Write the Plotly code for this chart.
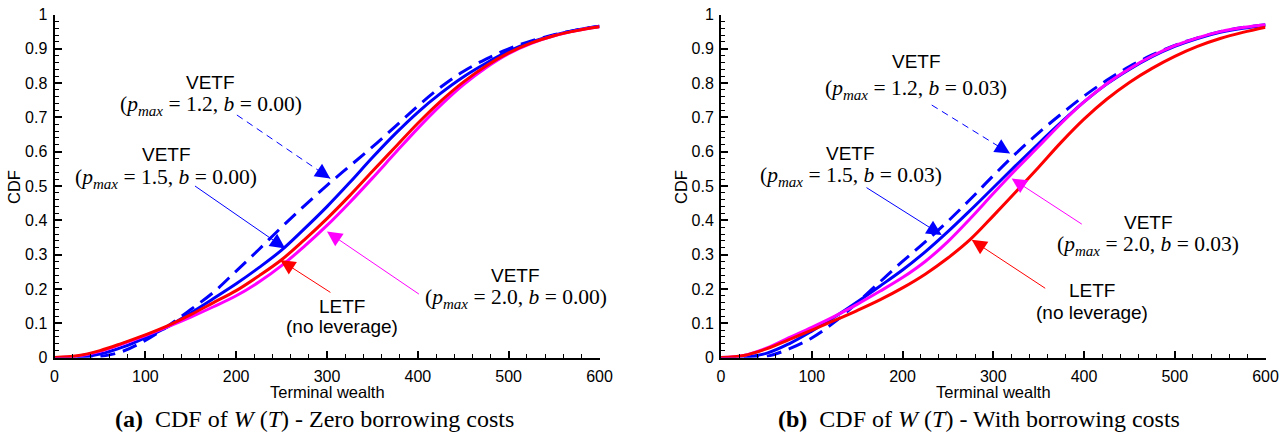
import numpy as np
import plotly.graph_objects as go

# Terminal wealth grid
wealth = [0, 25, 50, 75, 100, 125, 150, 175, 200, 225, 250, 275, 300,
          325, 350, 375, 400, 425, 450, 475, 500, 525, 550, 575, 600]

# (a) zero borrowing costs
cdf_a_vetf12 = [0, 0, 0.003, 0.018, 0.05, 0.092, 0.14, 0.19, 0.252, 0.315, 0.38, 0.442, 0.502,
                0.558, 0.614, 0.673, 0.733, 0.788, 0.834, 0.87, 0.9, 0.923, 0.941, 0.955, 0.966]
cdf_a_vetf15 = [0, 0.001, 0.01, 0.03, 0.058, 0.09, 0.13, 0.172, 0.215, 0.262, 0.313, 0.375, 0.44,
                0.51, 0.583, 0.652, 0.715, 0.77, 0.818, 0.858, 0.893, 0.92, 0.94, 0.955, 0.966]
cdf_a_vetf20 = [0, 0.004, 0.018, 0.04, 0.064, 0.09, 0.118, 0.148, 0.18, 0.22, 0.268, 0.324, 0.385,
                0.452, 0.523, 0.596, 0.668, 0.735, 0.795, 0.845, 0.886, 0.916, 0.938, 0.953, 0.964]
cdf_a_letf = [0, 0.005, 0.02, 0.042, 0.066, 0.093, 0.125, 0.16, 0.195, 0.238, 0.285, 0.343, 0.405,
              0.472, 0.543, 0.613, 0.683, 0.747, 0.803, 0.85, 0.888, 0.917, 0.938, 0.953, 0.964]

# (b) with borrowing costs
cdf_b_vetf12 = [0, 0, 0.003, 0.025, 0.057, 0.103, 0.16, 0.22, 0.28, 0.337, 0.397, 0.462, 0.53,
                0.595, 0.655, 0.71, 0.762, 0.808, 0.848, 0.882, 0.91, 0.932, 0.95, 0.962, 0.97]
cdf_b_vetf15 = [0, 0.001, 0.012, 0.04, 0.077, 0.118, 0.162, 0.208, 0.255, 0.308, 0.367, 0.43, 0.495,
                0.56, 0.624, 0.686, 0.745, 0.797, 0.84, 0.877, 0.907, 0.93, 0.948, 0.96, 0.968]
cdf_b_vetf20 = [0, 0.006, 0.027, 0.058, 0.088, 0.12, 0.155, 0.193, 0.233, 0.28, 0.338, 0.406, 0.478,
                0.548, 0.615, 0.683, 0.745, 0.798, 0.842, 0.879, 0.909, 0.932, 0.95, 0.962, 0.97]
cdf_b_letf = [0, 0.006, 0.025, 0.052, 0.08, 0.108, 0.137, 0.168, 0.203, 0.243, 0.29, 0.345, 0.413,
              0.483, 0.555, 0.628, 0.695, 0.753, 0.802, 0.843, 0.878, 0.907, 0.93, 0.948, 0.963]

x_ticks = [0, 100, 200, 300, 400, 500, 600]
y_ticks = [0, 0.1, 0.2, 0.3, 0.4, 0.5, 0.6, 0.7, 0.8, 0.9, 1]
y_tick_text = ["0", "0.1", "0.2", "0.3", "0.4", "0.5", "0.6", "0.7", "0.8", "0.9", "1"]

BLUE, MAGENTA, RED = "#0000FF", "#FF00FF", "#FF0000"
SANS = "Liberation Sans, Arial, sans-serif"
SERIF = "Liberation Serif, Times New Roman, serif"
W, H = 1288, 435

fig = go.Figure()

panels = [
    ("x", "y", cdf_a_vetf12, cdf_a_vetf15, cdf_a_vetf20, cdf_a_letf),
    ("x2", "y2", cdf_b_vetf12, cdf_b_vetf15, cdf_b_vetf20, cdf_b_letf),
]
for xa, ya, v12, v15, v20, letf in panels:
    for ys, col, dash in [(v12, BLUE, "15px,8px"), (v15, BLUE, "solid"),
                          (v20, MAGENTA, "solid"), (letf, RED, "solid")]:
        fig.add_trace(go.Scatter(
            x=wealth, y=ys, xaxis=xa, yaxis=ya, mode="lines",
            line=dict(color=col, width=3, dash=dash, shape="spline", smoothing=1.0),
            showlegend=False, hoverinfo="skip"))

axis_common = dict(
    showline=True, linecolor="black", linewidth=2, mirror=False, automargin=False,
    ticks="inside", ticklen=7, tickwidth=1.5, tickcolor="black",
    showgrid=False, zeroline=False,
    tickfont=dict(family=SANS, size=16, color="black"),
)
minor_x = dict(ticks="inside", ticklen=4, tickwidth=1.2, tickcolor="black", dtick=20)
minor_y = dict(ticks="inside", ticklen=4, tickwidth=1.2, tickcolor="black", dtick=0.02)
xdom_a = [54.5 / W, 599.5 / W]
xdom_b = [721 / W, 1265.5 / W]
ydom = [(H - 357.5) / H, (H - 14.5) / H]

fig.update_layout(
    width=W, height=H, margin=dict(l=0, r=0, t=0, b=0, pad=0),
    paper_bgcolor="white", plot_bgcolor="white", showlegend=False,
    xaxis=dict(domain=xdom_a, range=[0, 600], anchor="y", tickvals=x_ticks,
               minor=minor_x, ticklabelstandoff=3, **axis_common),
    yaxis=dict(domain=ydom, range=[0, 1], anchor="x", tickvals=y_ticks, ticktext=y_tick_text,
               minor=minor_y, ticklabelstandoff=2, **axis_common),
    xaxis2=dict(domain=xdom_b, range=[0, 600], anchor="y2", tickvals=x_ticks,
                minor=minor_x, ticklabelstandoff=3, **axis_common),
    yaxis2=dict(domain=ydom, range=[0, 1], anchor="x2", tickvals=y_ticks, ticktext=y_tick_text,
                minor=minor_y, ticklabelstandoff=2, **axis_common),
)

def math_label(pmax, b):
    return f"(<i>p</i><sub><i>max</i></sub> = {pmax}, <i>b</i> = {b})"

annotations = []
shapes = []

def label(xa, ya, x, y, top, bottom, bottom_serif=True):
    annotations.append(dict(x=x, y=y[0], xref=xa, yref=ya, text=top, showarrow=False,
                            xanchor="center", yanchor="middle",
                            font=dict(family=SANS, size=19, color="black")))
    bfont = dict(family=SERIF, size=21.5, color="black") if bottom_serif else \
        dict(family=SANS, size=19, color="black")
    annotations.append(dict(x=x, y=y[1], xref=xa, yref=ya, text=bottom, showarrow=False,
                            xanchor="center", yanchor="middle", font=bfont))

def arrow(xa, ya, tail, tip, col, dashed=False):
    start = tail
    if dashed:
        shapes.append(dict(type="line", xref=xa, yref=ya, x0=tail[0], y0=tail[1],
                           x1=tip[0], y1=tip[1], line=dict(color=col, width=1, dash="7px,5px")))
        t = np.array(tail, float)
        p = np.array(tip, float)
        start = tuple(p + 0.12 * (t - p))
    annotations.append(dict(x=tip[0], y=tip[1], ax=start[0], ay=start[1], xref=xa, yref=ya,
                            axref=xa, ayref=ya, text="", showarrow=True, arrowhead=2,
                            arrowsize=3, arrowwidth=1, arrowcolor=col, standoff=0))

# panel (a)
label("x", "y", 172, (0.803, 0.736), "VETF", math_label("1.2", "0.00"))
arrow("x", "y", (200.8, 0.707), (303.6, 0.522), BLUE, dashed=True)
label("x", "y", 123, (0.593, 0.522), "VETF", math_label("1.5", "0.00"))
arrow("x", "y", (153, 0.503), (254, 0.318), BLUE)
label("x", "y", 316.5, (0.149, 0.09), "LETF", "(no leverage)", bottom_serif=False)
arrow("x", "y", (305.4, 0.187), (248.5, 0.284), RED)
label("x", "y", 508, (0.24, 0.173), "VETF", math_label("2.0", "0.00"))
arrow("x", "y", (402.8, 0.182), (300, 0.367), MAGENTA)

# panel (b)
label("x2", "y2", 215, (0.862, 0.782), "VETF", math_label("1.2", "0.03"))
arrow("x2", "y2", (232.2, 0.736), (318.5, 0.595), BLUE, dashed=True)
label("x2", "y2", 143, (0.595, 0.527), "VETF", math_label("1.5", "0.03"))
arrow("x2", "y2", (158.7, 0.498), (243.2, 0.357), BLUE)
label("x2", "y2", 471, (0.393, 0.328), "VETF", math_label("2.0", "0.03"))
arrow("x2", "y2", (399.2, 0.386), (320.3, 0.522), MAGENTA)
label("x2", "y2", 408.5, (0.195, 0.131), "LETF", "(no leverage)", bottom_serif=False)
arrow("x2", "y2", (358.9, 0.199), (276.2, 0.343), RED)

# axis titles and captions
for cx in [327, 993]:
    annotations.append(dict(x=cx / W, y=(H - 392) / H, xref="paper", yref="paper",
                            text="Terminal wealth", showarrow=False,
                            xanchor="center", yanchor="middle",
                            font=dict(family=SANS, size=16.5, color="black")))
for cx in [14, 681]:
    annotations.append(dict(x=cx / W, y=(H - 187) / H, xref="paper", yref="paper",
                            text="CDF", textangle=-90, showarrow=False,
                            xanchor="center", yanchor="middle",
                            font=dict(family=SANS, size=16.5, color="black")))
captions = [
    (314, "<b>(a)</b>  CDF of <i>W</i> (<i>T</i>) - Zero borrowing costs"),
    (979, "<b>(b)</b>  CDF of <i>W</i> (<i>T</i>) - With borrowing costs"),
]
for cx, txt in captions:
    annotations.append(dict(x=cx / W, y=(H - 419) / H, xref="paper", yref="paper",
                            text=txt, showarrow=False, xanchor="center", yanchor="middle",
                            font=dict(family=SERIF, size=24, color="black")))

fig.update_layout(annotations=annotations, shapes=shapes)
fig.write_html("out.html")
